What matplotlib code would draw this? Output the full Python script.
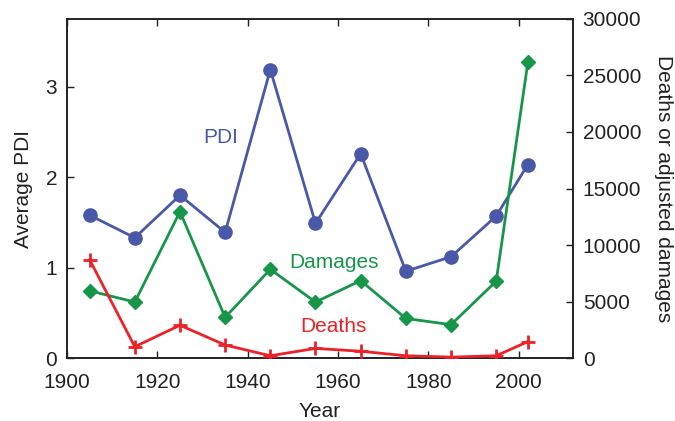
import matplotlib
matplotlib.use('Agg')
import matplotlib.pyplot as plt

plt.rcParams['font.family'] = ['Liberation Sans', 'DejaVu Sans']

years = [1905, 1915, 1925, 1935, 1945, 1955, 1965, 1975, 1985, 1995, 2002]
pdi = [1.58, 1.33, 1.80, 1.39, 3.19, 1.49, 2.26, 0.96, 1.12, 1.57, 2.14]
damages = [5950, 4950, 12950, 3600, 7850, 4950, 6850, 3500, 2950, 6800, 26150]
deaths = [8700, 1000, 2900, 1150, 200, 850, 600, 200, 80, 200, 1450]

blue = '#4a58a8'
green = '#17964a'
red = '#ec2228'

fig = plt.figure(figsize=(6.75, 4.21), dpi=100)
ax = fig.add_axes([0.0993, 0.1496, 0.7496, 0.8053])
ax2 = ax.twinx()

ax.plot(years, pdi, '-o', color=blue, lw=2, markersize=9.5, zorder=3)
ax2.plot(years, damages, '-D', color=green, lw=2, markersize=7.5, zorder=3)
ax2.plot(years, deaths, '-+', color=red, lw=2, markersize=10, markeredgewidth=2, zorder=3)

ax.set_xlim(1900, 2012)
ax.set_ylim(0, 3.75)
ax2.set_ylim(0, 30000)
ax.set_xticks([1900, 1920, 1940, 1960, 1980, 2000])
ax.set_yticks([0, 1, 2, 3])
ax2.set_yticks([0, 5000, 10000, 15000, 20000, 25000, 30000])

fs = 15
ax.tick_params(axis='both', direction='in', length=5, width=1, labelsize=fs,
               top=True, colors='#222222')
ax.tick_params(axis='x', labeltop=False, pad=11)
ax.tick_params(axis='y', pad=7)
ax2.tick_params(axis='y', direction='in', length=5, width=1, labelsize=fs,
                colors='#222222', pad=7)
for a in (ax, ax2):
    for s in a.spines.values():
        s.set_linewidth(1.2)
        s.set_color('#222222')

ax.set_xlabel('Year', fontsize=fs, color='#222222', labelpad=7)
ax.set_ylabel('Average PDI', fontsize=fs, color='#222222', labelpad=9)
ax2.set_ylabel('Deaths or adjusted damages', fontsize=fs, color='#222222',
               rotation=270, labelpad=23)

ax.text(1934, 2.44, 'PDI', color=blue, fontsize=fs, ha='center', va='center')
ax.text(1959, 1.06, 'Damages', color=green, fontsize=fs, ha='center', va='center')
ax.text(1959, 0.35, 'Deaths', color=red, fontsize=fs, ha='center', va='center')

fig.savefig('out.png', dpi=100)
